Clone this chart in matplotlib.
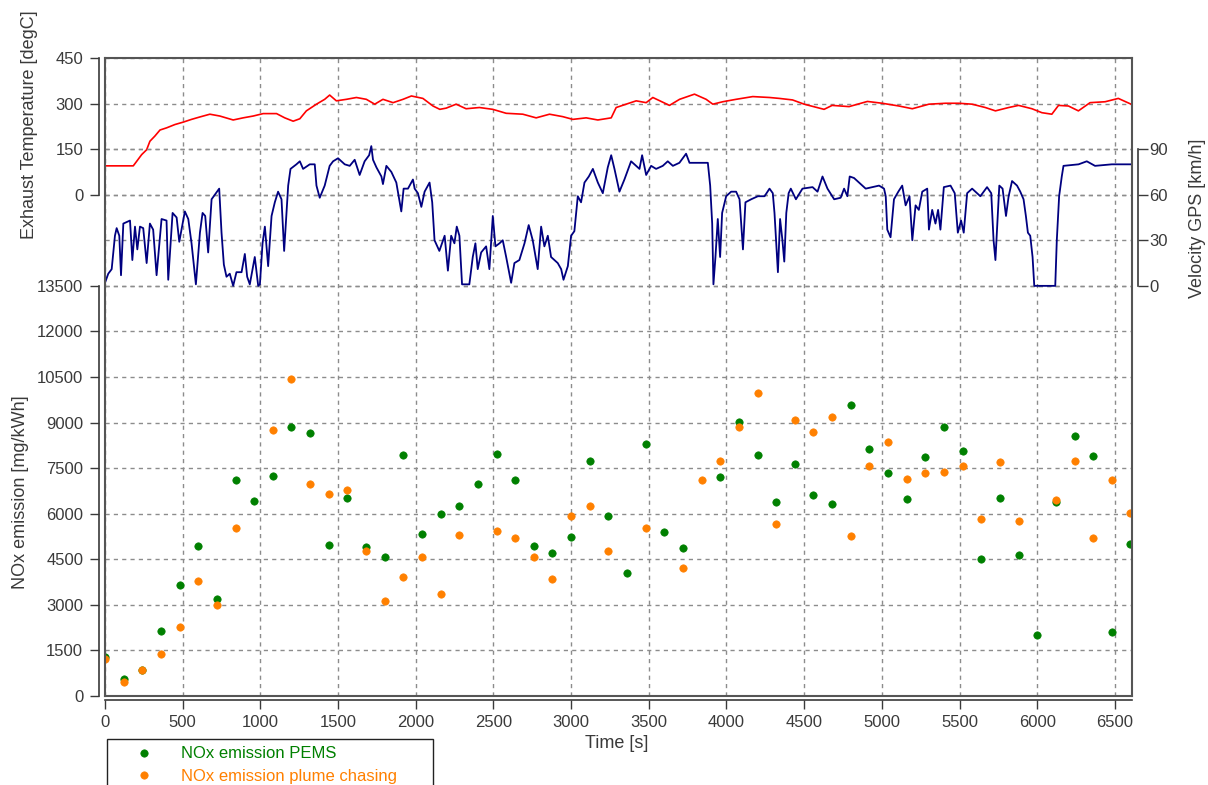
import matplotlib
matplotlib.use('Agg')
import matplotlib.pyplot as plt
import numpy as np

plt.rcParams['font.family'] = ['Liberation Sans', 'DejaVu Sans']

# ---------------- data ----------------
temp_time = [0, 182, 204, 236, 268, 289, 321, 354, 396, 450, 504, 557, 611, 675, 739, 825, 889, 954,
             1018, 1104, 1157, 1211, 1254, 1296, 1361, 1414, 1446, 1489, 1554, 1618, 1682, 1736, 1789,
             1854, 1918, 1972, 2046, 2111, 2155, 2196, 2260, 2324, 2410, 2496, 2582, 2689, 2775, 2861,
             2946, 3011, 3097, 3172, 3258, 3290, 3354, 3419, 3483, 3526, 3633, 3698, 3794, 3869, 3912,
             3976, 4062, 4169, 4277, 4340, 4425, 4500, 4628, 4680, 4789, 4907, 5003, 5110, 5196, 5303,
             5410, 5495, 5581, 5666, 5731, 5816, 5880, 5966, 6030, 6094, 6137, 6201, 6265, 6340, 6437,
             6522, 6604]
temp_value = [95, 95, 110, 132, 148, 176, 193, 213, 220, 231, 239, 248, 256, 265, 259, 246, 253, 259,
              267, 267, 253, 242, 250, 276, 298, 314, 328, 309, 314, 320, 314, 298, 314,
              303, 314, 325, 317, 292, 281, 285, 298, 283, 287, 281, 268, 265, 253, 265,
              257, 248, 253, 246, 253, 287, 298, 309, 303, 320, 294, 314, 331, 314, 298,
              306, 314, 323, 320, 317, 312, 298, 281, 294, 290, 307, 301, 292, 283, 298,
              301, 301, 298, 287, 276, 287, 294, 283, 270, 265, 294, 292, 276, 303, 306,
              317, 298]

vel_time = [0, 21, 43, 64, 75, 92, 103, 118, 161, 176, 193, 208, 225, 246, 268, 289, 310, 332, 364,
            396, 407, 435, 461, 478, 514, 536, 557, 585, 611, 628, 645, 664, 686, 707, 735, 750, 765,
            782, 803, 825, 846, 879, 900, 915, 932, 964, 986, 997, 1014, 1029, 1050, 1072, 1093, 1114,
            1136, 1153, 1164, 1179, 1194, 1232, 1254, 1275, 1318, 1350, 1361, 1382, 1414, 1446, 1468,
            1500, 1543, 1575, 1607, 1639, 1671, 1700, 1714, 1725, 1747, 1779, 1789, 1811, 1843, 1875,
            1907, 1922, 1950, 1982, 1993, 2014, 2036, 2057, 2089, 2106, 2121, 2152, 2186, 2207, 2228,
            2249, 2264, 2281, 2298, 2345, 2367, 2384, 2399, 2421, 2453, 2474, 2496, 2513, 2539, 2560,
            2582, 2614, 2635, 2667, 2700, 2727, 2753, 2785, 2807, 2828, 2850, 2871, 2914, 2936, 2951,
            2979, 3000, 3021, 3043, 3064, 3086, 3114, 3140, 3172, 3204, 3236, 3258, 3279, 3311, 3343,
            3386, 3418, 3440, 3457, 3483, 3515, 3547, 3590, 3622, 3655, 3697, 3740, 3762, 3805, 3880,
            3895, 3908, 3916, 3929, 3944, 3959, 3972, 3998, 4030, 4062, 4084, 4106, 4122, 4159, 4202,
            4245, 4277, 4298, 4309, 4331, 4345, 4360, 4372, 4385, 4400, 4414, 4447, 4489, 4554, 4586,
            4618, 4650, 4693, 4735, 4757, 4778, 4793, 4821, 4864, 4896, 4939, 4982, 5014, 5025, 5035,
            5056, 5078, 5106, 5131, 5153, 5178, 5196, 5217, 5238, 5260, 5292, 5303, 5324, 5345, 5362,
            5377, 5399, 5442, 5469, 5489, 5510, 5527, 5549, 5581, 5634, 5677, 5704, 5719, 5731, 5741,
            5756, 5777, 5799, 5816, 5838, 5870, 5891, 5912, 5927, 5940, 5955, 5970, 5981, 6116, 6126,
            6141, 6158, 6169, 6266, 6319, 6372, 6480, 6604]
vel_value = [2, 8, 11, 33, 38, 33, 7, 41, 43, 17, 39, 24, 39, 38, 15, 41, 37, 7, 44,
             43, 4, 48, 45, 29, 49, 44, 28, 1, 35, 48, 46, 22, 57, 60, 64, 35, 14,
             6, 8, 0, 9, 9, 21, 6, 1, 19, 0, 1, 28, 39, 13, 46, 55, 62,
             57, 23, 41, 66, 77, 80, 82, 77, 80, 80, 66, 58, 66, 79, 82,
             84, 80, 79, 83, 73, 82, 86, 92, 83, 78, 72, 67, 79, 75, 68,
             49, 64, 64, 70, 64, 61, 52, 62, 68, 55, 30, 23, 33, 10, 33,
             28, 39, 33, 1, 1, 19, 28, 11, 22, 26, 11, 46, 26, 28, 30,
             19, 2, 15, 17, 28, 40, 30, 11, 39, 26, 33, 19, 15, 11, 4,
             13, 33, 36, 59, 55, 68, 72, 77, 68, 61, 78, 86, 77, 62, 70,
             82, 79, 77, 86, 73, 79, 77, 79, 82, 79, 81, 87, 81, 81, 81,
             66, 41, 1, 19, 44, 19, 48, 59, 62, 62, 57, 24, 55, 57, 59,
             59, 64, 61, 48, 9, 44, 30, 16, 48, 61, 64, 57, 64, 65, 62,
             72, 64, 57, 58, 64, 59, 72, 71, 67, 64, 65, 66, 64, 59, 37,
             32, 57, 62, 66, 53, 59, 30, 53, 50, 62, 64, 37, 50, 41, 50,
             37, 65, 66, 61, 35, 43, 35, 61, 64, 59, 65, 61, 30, 17, 37,
             66, 64, 46, 59, 69, 66, 62, 57, 46, 35, 33, 19, 0, 0, 30,
             59, 72, 79, 80, 82, 79, 80, 80]

nox_time = [0, 120, 240, 360, 480, 600, 720, 840, 960, 1080, 1200, 1320, 1440, 1560, 1680, 1800,
            1920, 2040, 2160, 2280, 2400, 2520, 2640, 2760, 2880, 3000, 3120, 3240, 3360, 3480,
            3600, 3720, 3840, 3960, 4080, 4200, 4320, 4440, 4560, 4680, 4800, 4920, 5040, 5160,
            5280, 5400, 5520, 5640, 5760, 5880, 6000, 6120, 6240, 6360, 6480, 6600]
nox_pems = [1300, 550, 850, 2150, 3650, 4950, 3200, 7100, 6420, 7230, 8870, 8650, 4980, 6510, 4900, 4580,
            7920, 5340, 5980, 6270, 6990, 7980, 7110, 4940, 4720, 5220, 7720, 5930, 4040, 8310,
            5400, 4870, np.nan, 7200, 9010, 7920, 6370, 7650, 6600, 6320, 9570, 8140, 7340, 6480,
            7860, 8860, 8050, 4520, 6520, 4630, 2010, 6380, 8570, 7910, 2120, 4990]
nox_plume = [1210, 450, 860, 1380, 2260, 3770, 3000, 5520, np.nan, 8760, 10440, 6980, 6660, 6790, 4760, 3140,
             3910, 4590, 3360, 5300, np.nan, 5440, 5210, 4560, 3860, 5910, 6240, 4760, np.nan, 5530,
             np.nan, 4220, 7110, 7720, 8870, 9980, 5650, 9100, 8690, 9170, 5270, 7560, 8360, 7150,
             7340, 7370, 7560, 5830, 7690, 5750, np.nan, 6440, 7750, 5210, 7100, 6020]

time_ticks = [0, 500, 1000, 1500, 2000, 2500, 3000, 3500, 4000, 4500, 5000, 5500, 6000, 6500]
nox_ticks = [0, 1500, 3000, 4500, 6000, 7500, 9000, 10500, 12000, 13500]
temp_ticks = [0, 150, 300, 450]
vel_ticks = [0, 30, 60, 90]

# ---------------- figure ----------------
W, H = 1208, 785
fig = plt.figure(figsize=(W / 100, H / 100), dpi=100)
L, R, T, B = 105, 1132, 58, 696
rect = [L / W, 1 - B / H, (R - L) / W, (B - T) / H]
XMAX = 6610

GREEN = '#008000'
ORANGE = '#ff8000'
TXT = '#3a3a3a'

ax_nox = fig.add_axes(rect)
ax_temp = fig.add_axes(rect)
ax_vel = fig.add_axes(rect)
ax_frame = fig.add_axes(rect)

for a in (ax_nox, ax_temp, ax_vel, ax_frame):
    a.patch.set_visible(False)
    a.set_xlim(0, XMAX)

grid_kw = dict(color='#8c8c8c', linestyle=(0, (3, 3)), linewidth=1.0)
tick_kw = dict(direction='out', length=6.7, width=1.0, color=TXT, labelcolor=TXT, labelsize=12)

# NOx scatter
l1, = ax_nox.plot(nox_time, nox_pems, linestyle='none', marker='o', ms=5.3,
                  mfc=GREEN, mec=GREEN, mew=0.5, label='NOx emission PEMS')
l2, = ax_nox.plot(nox_time, nox_plume, linestyle='none', marker='o', ms=5.3,
                  mfc=ORANGE, mec=ORANGE, mew=0.5, label='NOx emission plume chasing')
ax_nox.set_ylim(0, nox_ticks[-1] * 14 / 9)
ax_nox.set_yticks(nox_ticks)
ax_nox.set_xticks(time_ticks)
ax_nox.set_axisbelow(True)
ax_nox.grid(True, **grid_kw)
ax_nox.spines['top'].set_visible(False)
ax_nox.spines['right'].set_visible(False)
ax_nox.spines['left'].set_position(('outward', 4))
ax_nox.spines['left'].set_bounds(0, nox_ticks[-1])
ax_nox.spines['bottom'].set_position(('outward', 3))
for s in ('left', 'bottom'):
    ax_nox.spines[s].set_color(TXT)
    ax_nox.spines[s].set_linewidth(1.2)
ax_nox.tick_params(axis='y', pad=5, **tick_kw)
ax_nox.tick_params(axis='x', pad=4, **tick_kw)

# Exhaust temperature
ax_temp.plot(temp_time, temp_value, color='#ff0000', lw=1.2)
ax_temp.set_ylim(450 - 14 * 150, 450)
ax_temp.set_yticks(temp_ticks)
ax_temp.set_axisbelow(True)
ax_temp.grid(True, axis='y', **grid_kw)
ax_temp.tick_params(axis='x', bottom=False, labelbottom=False)
for s in ('top', 'right', 'bottom'):
    ax_temp.spines[s].set_visible(False)
ax_temp.spines['left'].set_position(('outward', 4))
ax_temp.spines['left'].set_bounds(0, 450)
ax_temp.spines['left'].set_color(TXT)
ax_temp.spines['left'].set_linewidth(1.2)
ax_temp.tick_params(axis='y', pad=5, **tick_kw)

# Velocity
ax_vel.plot(vel_time, vel_value, color='#000080', lw=1.3)
ax_vel.set_ylim(150 - 14 * 30, 150)
ax_vel.yaxis.tick_right()
ax_vel.set_yticks(vel_ticks)
ax_vel.set_axisbelow(True)
ax_vel.grid(True, axis='y', **grid_kw)
ax_vel.tick_params(axis='x', bottom=False, labelbottom=False)
for s in ('top', 'left', 'bottom'):
    ax_vel.spines[s].set_visible(False)
ax_vel.spines['right'].set_position(('outward', 4))
ax_vel.spines['right'].set_bounds(0, 90)
ax_vel.spines['right'].set_color(TXT)
ax_vel.spines['right'].set_linewidth(1.2)
vk = dict(tick_kw)
vk['length'] = 7
ax_vel.tick_params(axis='y', pad=1.5, **vk)

# Frame
ax_frame.set_zorder(5)
ax_frame.set_xticks([])
ax_frame.set_yticks([])
for s in ax_frame.spines.values():
    s.set_color('#555555')
    s.set_linewidth(1.5)

# Axis labels
lab_kw = dict(fontsize=13, color=TXT, ha='center', va='center')
fig.text(29.5 / W, 1 - 125 / H, 'Exhaust Temperature [degC]', rotation=90, **lab_kw)
fig.text(21 / W, 1 - 492 / H, 'NOx emission [mg/kWh]', rotation=90, **lab_kw)
fig.text(1198 / W, 1 - 218 / H, 'Velocity GPS [km/h]', rotation=90, **lab_kw)
fig.text(617 / W, 1 - 744 / H, 'Time [s]', **lab_kw)

# Legend (runs off the bottom edge, as in the reference)
leg = fig.legend([l1, l2], ['NOx emission PEMS', 'NOx emission plume chasing'],
                 loc='upper left', bbox_to_anchor=(107 / W, 0, 326 / W, 1 - 739 / H),
                 mode='expand', borderaxespad=0, frameon=True, fancybox=False,
                 edgecolor='#222222', framealpha=1, fontsize=12, handlelength=3.5,
                 handletextpad=0.47, labelspacing=0.45, borderpad=0.45,
                 labelcolor=[GREEN, ORANGE])
leg.get_frame().set_linewidth(1.0)

fig.savefig('out.png', dpi=100)
